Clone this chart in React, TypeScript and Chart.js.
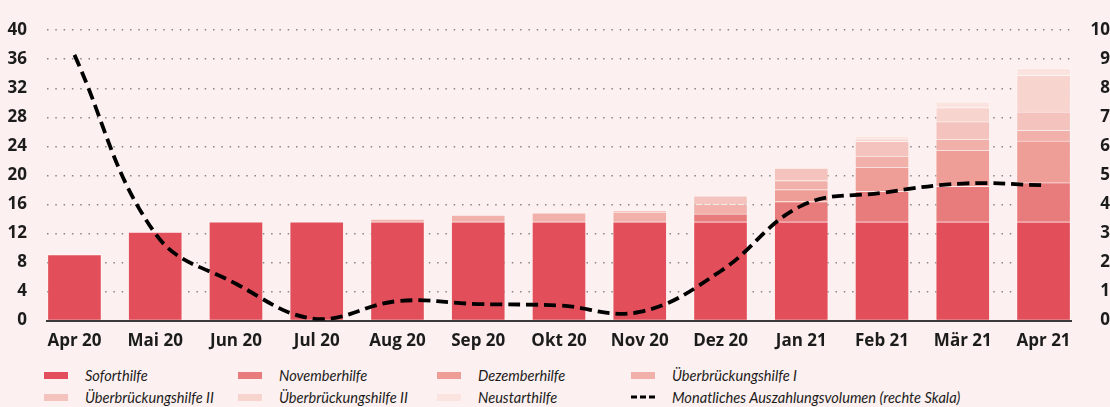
import { useEffect, useRef } from 'react';
import { Chart, registerables } from 'chart.js';

Chart.register(...registerables);

const categories = ['Apr 20', 'Mai 20', 'Jun 20', 'Jul 20', 'Aug 20', 'Sep 20', 'Okt 20', 'Nov 20', 'Dez 20', 'Jan 21', 'Feb 21', 'Mär 21', 'Apr 21'];

const soforthilfe = [9.1, 12.2, 13.6, 13.6, 13.6, 13.6, 13.6, 13.6, 13.6, 13.6, 13.6, 13.6, 13.6];
const novemberhilfe = [0, 0, 0, 0, 0, 0, 0, 0, 1.1, 2.8, 4.2, 4.9, 5.4];
const dezemberhilfe = [0, 0, 0, 0, 0, 0, 0, 0, 0, 1.65, 3.35, 5.0, 5.75];
const ueberbrueckung1 = [0, 0, 0, 0, 0.4, 0.95, 1.25, 1.35, 1.3, 1.25, 1.5, 1.5, 1.45];
const ueberbrueckung2 = [0, 0, 0, 0, 0, 0, 0, 0.2, 1.2, 1.7, 2.05, 2.4, 2.55];
const ueberbrueckung3 = [0, 0, 0, 0, 0, 0, 0, 0, 0, 0, 0.35, 1.95, 5.05];
const neustarthilfe = [0, 0, 0, 0, 0, 0, 0, 0, 0, 0, 0.37, 0.8, 0.95];

const auszahlungsvolumen = [9.15, 3.0, 1.27, 0.05, 0.67, 0.57, 0.52, 0.3, 1.7, 3.95, 4.4, 4.72, 4.66];

const leftTickStep = 4;
const leftMax = 40;
const rightTickStep = 1;
const rightMax = 10;

const seriesNames = ['Soforthilfe', 'Novemberhilfe', 'Dezemberhilfe', 'Überbrückungshilfe I', 'Überbrückungshilfe II', 'Überbrückungshilfe II', 'Neustarthilfe'];
const lineName = 'Monatliches Auszahlungsvolumen (rechte Skala)';
const seriesData = [soforthilfe, novemberhilfe, dezemberhilfe, ueberbrueckung1, ueberbrueckung2, ueberbrueckung3, neustarthilfe];
const seriesColors = ['#e24f5b', '#e87c7c', '#ee9d97', '#f1b0aa', '#f5c3bd', '#f8d4cf', '#fbe3e0'];

const BG = '#fcf1f0';
const TEXT = '#1c1c1c';
const tickFont = { family: '"Open Sans", sans-serif', weight: 'bold' as const, size: 17 };

export default function App() {
  const canvasRef = useRef<HTMLCanvasElement | null>(null);

  useEffect(() => {
    document.body.style.margin = '0';
    document.body.style.background = BG;
    const canvas = canvasRef.current;
    if (!canvas) return;

    const barSets = seriesData.map((arr, si) => ({
      type: 'bar' as const,
      label: seriesNames[si],
      data: arr.map((v, i) => ({ x: i, y: v })),
      backgroundColor: seriesColors[si],
      borderColor: 'rgba(255,255,255,0.3)',
      borderWidth: 1,
      barThickness: 54,
      yAxisID: 'y',
      order: 1,
    }));

    const chart = new Chart(canvas, {
      type: 'bar',
      data: {
        datasets: [
          {
            type: 'line' as const,
            label: lineName,
            data: auszahlungsvolumen.map((v, i) => ({ x: i, y: v })),
            borderColor: '#000000',
            borderWidth: 3.8,
            borderDash: [12, 6],
            pointRadius: 0,
            tension: 0.4,
            fill: false,
            yAxisID: 'y1',
            order: 0,
          } as any,
          ...barSets,
        ],
      },
      options: {
        responsive: false,
        animation: false,
        layout: { padding: { top: 27, bottom: 0, left: 0, right: 0 } },
        plugins: { legend: { display: false }, tooltip: { enabled: false } },
        scales: {
          x: {
            type: 'linear',
            min: -0.34,
            max: categories.length - 1 + 0.34,
            stacked: true,
            offset: false,
            grid: { display: false, drawTicks: false },
            border: { display: true, color: '#3a3a3a', width: 2 },
            afterBuildTicks: (s: any) => {
              s.ticks = categories.map((_, i) => ({ value: i }));
            },
            ticks: {
              autoSkip: false,
              maxRotation: 0,
              padding: 10,
              color: TEXT,
              font: tickFont,
              callback: (v: any) => categories[v as number] ?? '',
            },
          },
          y: {
            position: 'left',
            min: 0,
            max: leftMax,
            stacked: true,
            afterFit: (s: any) => {
              s.width = 47;
            },
            grid: { color: '#858585', lineWidth: 1.5, drawTicks: false },
            border: { display: false, dash: [1.5, 6.8] },
            ticks: { stepSize: leftTickStep, padding: 20, color: TEXT, font: tickFont },
          },
          y1: {
            position: 'right',
            min: 0,
            max: rightMax,
            afterFit: (s: any) => {
              s.width = 39;
            },
            grid: { display: false, drawTicks: false },
            border: { display: false },
            ticks: { stepSize: rightTickStep, padding: 13, crossAlign: 'far', color: TEXT, font: tickFont },
          },
        },
      } as any,
    });

    return () => chart.destroy();
  }, []);

  const colX = [44, 238, 437, 631];
  const rowY = [375, 397];
  const legendItems: { label: string; color?: string; dashed?: boolean }[] = [
    ...seriesNames.map((n, i) => ({ label: n, color: seriesColors[i] })),
    { label: lineName, dashed: true },
  ];

  return (
    <div style={{ position: 'relative', width: 1110, height: 407, background: BG, overflow: 'hidden' }}>
      <canvas ref={canvasRef} width={1110} height={361} style={{ display: 'block' }} />
      {legendItems.map((it, idx) => {
        const x = colX[idx % 4];
        const y = rowY[Math.floor(idx / 4)];
        return (
          <div key={idx}>
            {it.dashed ? (
              <svg style={{ position: 'absolute', left: x, top: y - 3 }} width={24} height={6}>
                <line x1={0} y1={3} x2={24} y2={3} stroke="#000" strokeWidth={3} strokeDasharray="6,3" />
              </svg>
            ) : (
              <div style={{ position: 'absolute', left: x, top: y - 3.5, width: 24, height: 7, background: it.color }} />
            )}
            <div
              style={{
                position: 'absolute',
                left: x + 41,
                top: y,
                transform: 'translateY(-50%)',
                fontFamily: 'Lato, sans-serif',
                fontStyle: 'italic',
                fontSize: 14.6,
                color: TEXT,
                whiteSpace: 'nowrap',
                lineHeight: '17px',
              }}
            >
              {it.label}
            </div>
          </div>
        );
      })}
    </div>
  );
}
